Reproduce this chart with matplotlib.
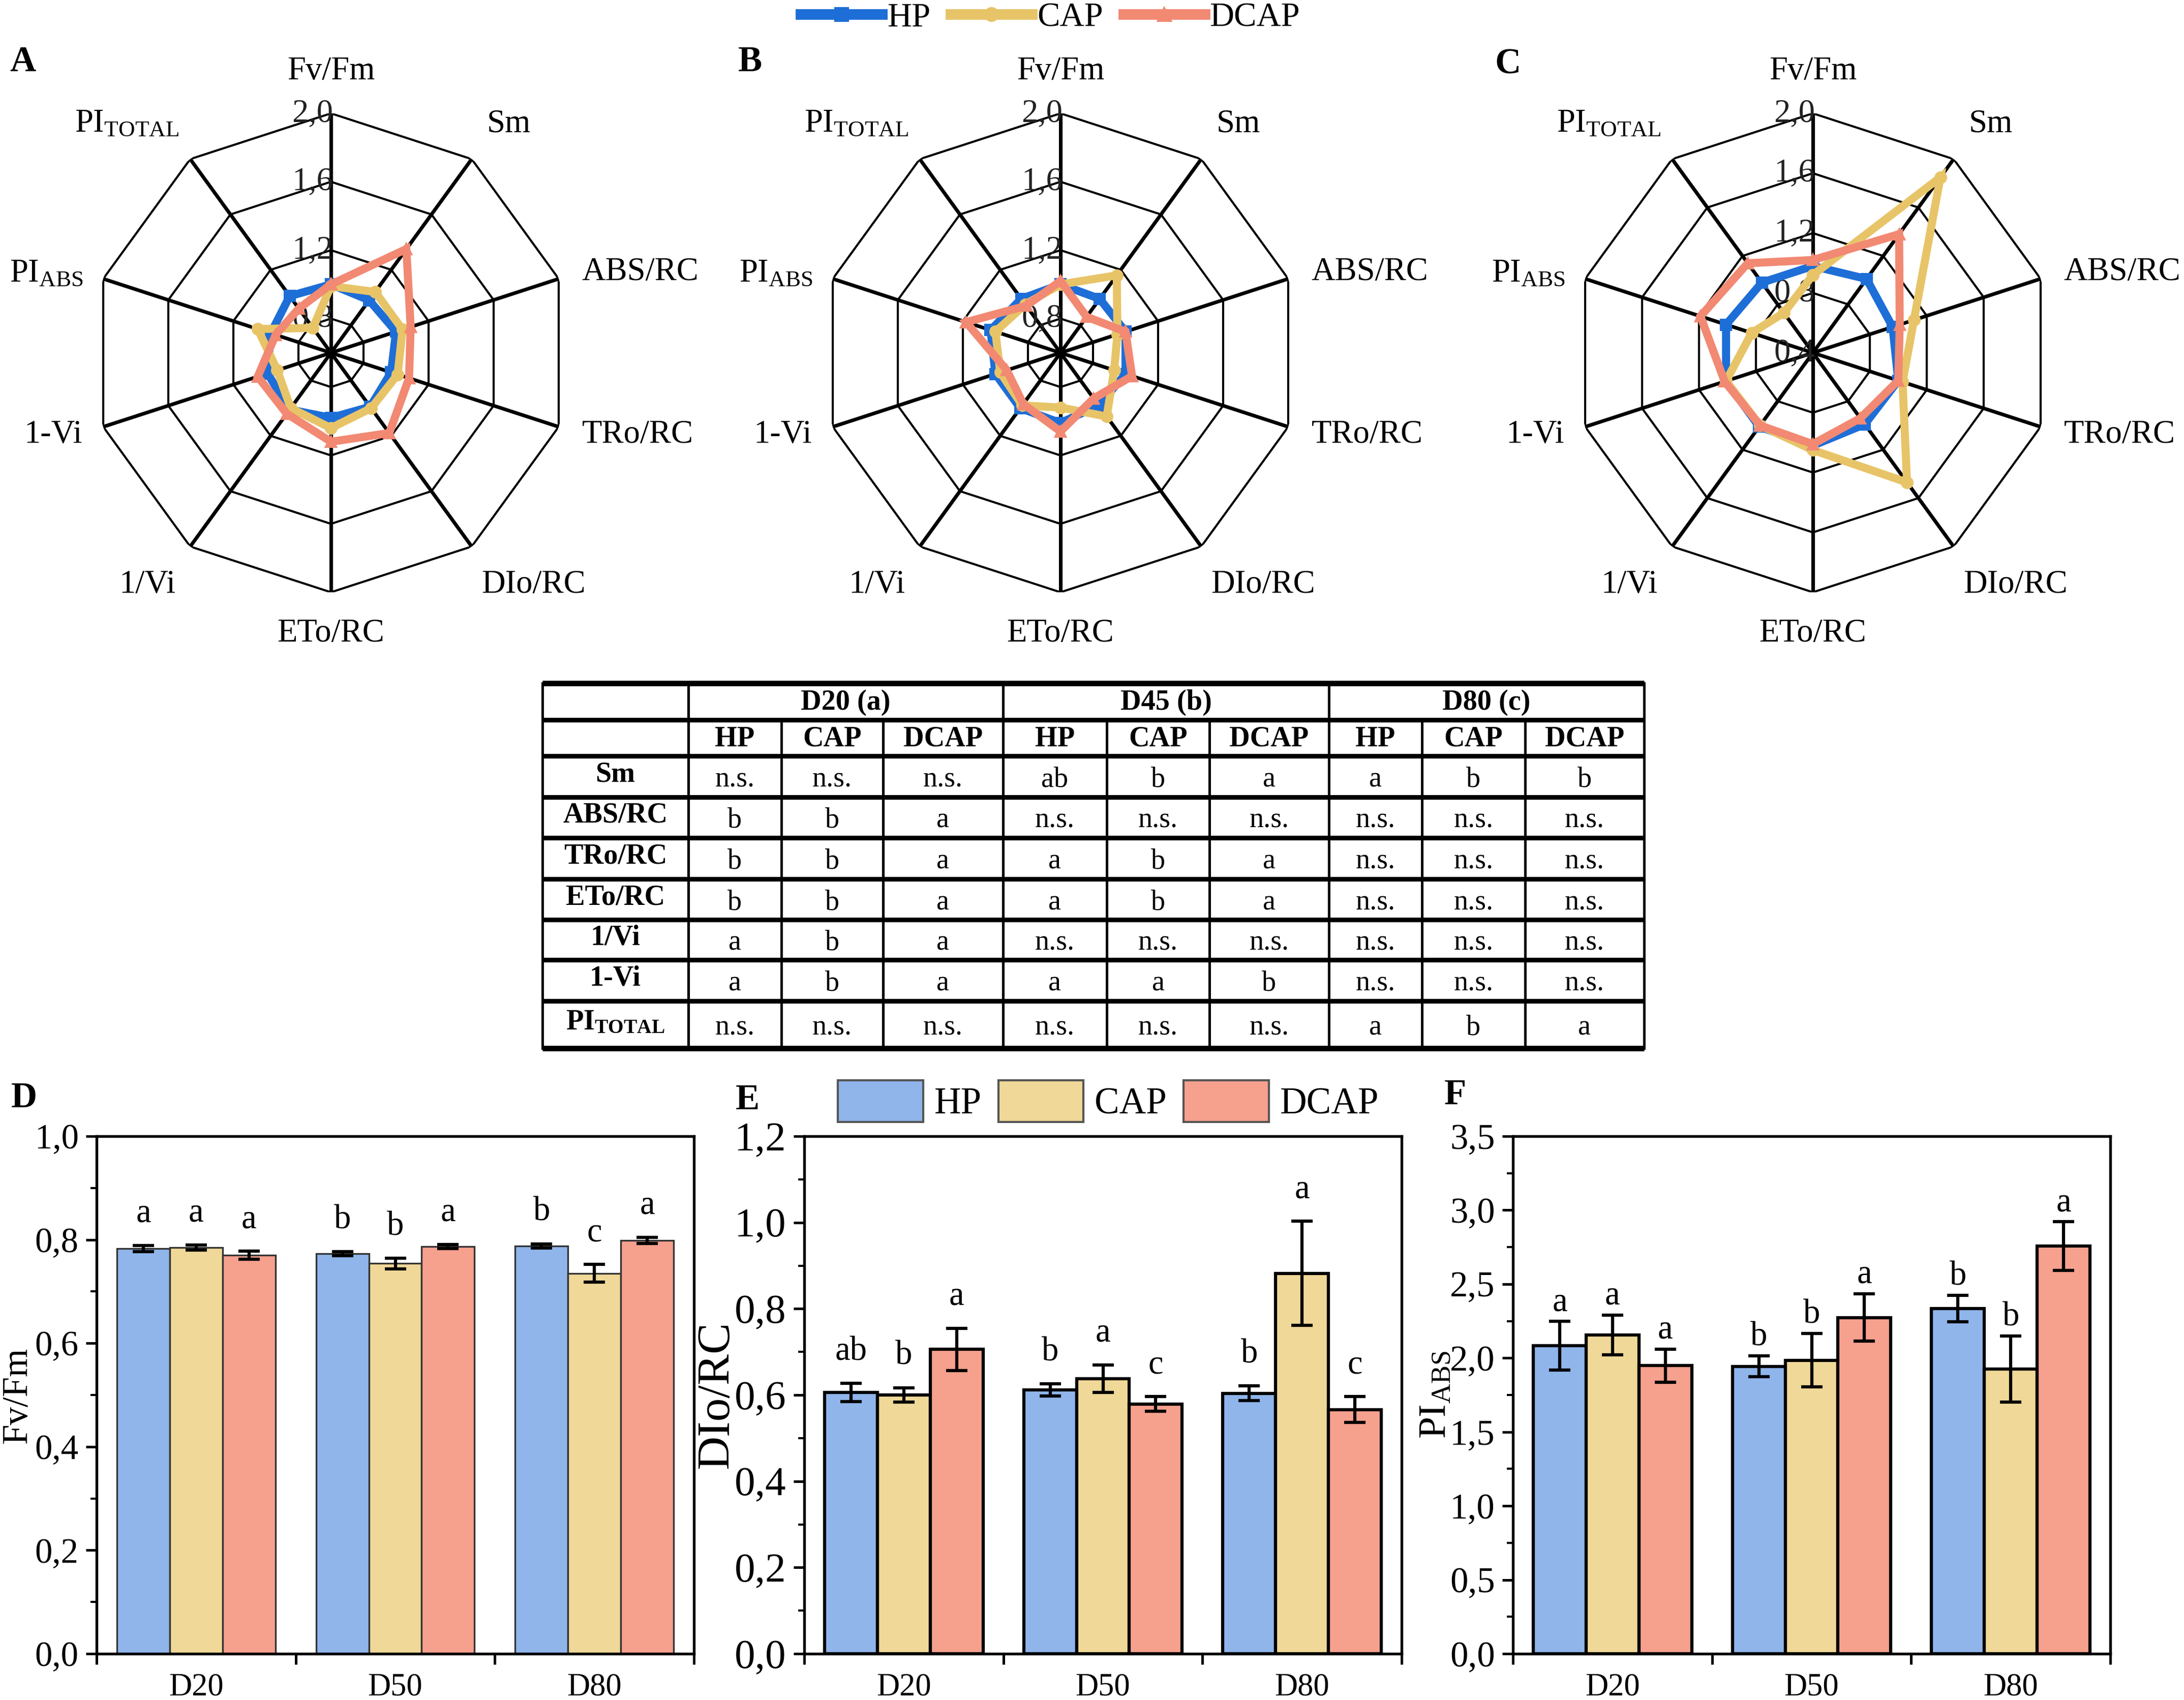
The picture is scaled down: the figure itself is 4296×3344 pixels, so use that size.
import numpy as np
import matplotlib
matplotlib.use('Agg')
import matplotlib.pyplot as plt
from matplotlib.lines import Line2D
from matplotlib.patches import Patch
from matplotlib.ticker import MultipleLocator, FuncFormatter

plt.rcParams['font.family'] = ['Liberation Serif', 'DejaVu Serif']
plt.rcParams['mathtext.fontset'] = 'custom'
plt.rcParams['mathtext.rm'] = 'Liberation Serif'
plt.rcParams['mathtext.it'] = 'Liberation Serif:italic'
plt.rcParams['mathtext.bf'] = 'Liberation Serif:bold'

# ---------------- data ----------------
treatments = ['HP', 'CAP', 'DCAP']
radar_params = ['Fv/Fm', 'Sm', 'ABS/RC', 'TRo/RC', 'DIo/RC', 'ETo/RC', '1/Vi', '1-Vi',
                r'PI$_{\mathrm{ABS}}$', r'PI$_{\mathrm{TOTAL}}$']

radarA_HP = [1.00, 0.98, 1.00, 0.97, 0.99, 0.98, 1.01, 0.99, 0.97, 1.01]
radarA_CAP = [0.99, 1.04, 1.04, 1.01, 1.00, 1.04, 1.00, 0.93, 1.05, 0.78]
radarA_DCAP = [1.00, 1.35, 1.09, 1.08, 1.18, 1.12, 1.04, 1.05, 0.94, 0.92]

radarB_HP = [1.00, 0.99, 1.00, 1.00, 0.98, 1.01, 1.00, 1.00, 1.03, 0.99]
radarB_CAP = [1.00, 1.16, 0.95, 0.93, 1.06, 0.92, 0.98, 0.97, 1.00, 0.95]
radarB_DCAP = [1.02, 0.86, 1.00, 1.04, 0.93, 1.06, 0.97, 0.93, 1.18, 0.94]

radarC_HP = [0.98, 1.01, 0.96, 1.00, 0.99, 1.02, 1.01, 1.01, 1.01, 0.98]
radarC_CAP = [0.92, 1.85, 1.11, 1.03, 1.47, 1.05, 1.00, 1.01, 0.83, 0.73]
radarC_DCAP = [1.02, 1.38, 1.01, 1.00, 0.94, 1.01, 1.00, 1.02, 1.19, 1.14]

radarA_ticks = [0.8, 1.2, 1.6, 2.0]
radarC_ticks = [0.4, 0.8, 1.2, 1.6, 2.0]

days = ['D20', 'D50', 'D80']

fvfm_HP = [0.783, 0.773, 0.788]
fvfm_CAP = [0.785, 0.754, 0.735]
fvfm_DCAP = [0.770, 0.787, 0.799]
fvfm_HP_err = [0.006, 0.004, 0.004]
fvfm_CAP_err = [0.005, 0.010, 0.017]
fvfm_DCAP_err = [0.008, 0.004, 0.006]
fvfm_HP_let = ['a', 'b', 'b']
fvfm_CAP_let = ['a', 'b', 'c']
fvfm_DCAP_let = ['a', 'a', 'a']

dio_HP = [0.606, 0.612, 0.604]
dio_CAP = [0.600, 0.638, 0.882]
dio_DCAP = [0.706, 0.579, 0.566]
dio_HP_err = [0.021, 0.014, 0.017]
dio_CAP_err = [0.017, 0.032, 0.121]
dio_DCAP_err = [0.049, 0.017, 0.030]
dio_HP_let = ['ab', 'b', 'b']
dio_CAP_let = ['b', 'a', 'a']
dio_DCAP_let = ['a', 'c', 'c']

pi_HP = [2.083, 1.944, 2.334]
pi_CAP = [2.157, 1.985, 1.925]
pi_DCAP = [1.949, 2.274, 2.757]
pi_HP_err = [0.164, 0.071, 0.090]
pi_CAP_err = [0.134, 0.180, 0.224]
pi_DCAP_err = [0.112, 0.161, 0.164]
pi_HP_let = ['a', 'b', 'b']
pi_CAP_let = ['a', 'b', 'b']
pi_DCAP_let = ['a', 'a', 'a']

table_groups = ['D20 (a)', 'D45 (b)', 'D80 (c)']
table_rows = ['Sm', 'ABS/RC', 'TRo/RC', 'ETo/RC', '1/Vi', '1-Vi', r'PI$_{\mathbf{TOTAL}}$']
table_cells = [
    ['n.s.', 'n.s.', 'n.s.', 'ab', 'b', 'a', 'a', 'b', 'b'],
    ['b', 'b', 'a', 'n.s.', 'n.s.', 'n.s.', 'n.s.', 'n.s.', 'n.s.'],
    ['b', 'b', 'a', 'a', 'b', 'a', 'n.s.', 'n.s.', 'n.s.'],
    ['b', 'b', 'a', 'a', 'b', 'a', 'n.s.', 'n.s.', 'n.s.'],
    ['a', 'b', 'a', 'n.s.', 'n.s.', 'n.s.', 'n.s.', 'n.s.', 'n.s.'],
    ['a', 'b', 'a', 'a', 'a', 'b', 'n.s.', 'n.s.', 'n.s.'],
    ['n.s.', 'n.s.', 'n.s.', 'n.s.', 'n.s.', 'n.s.', 'a', 'b', 'a'],
]

# ---------------- style ----------------
line_colors = ['#1E6ED7', '#E8C468', '#F28973']
markers = ['s', 'o', '^']
bar_colors = ['#8FB5EB', '#F0D898', '#F6A08E']

W, H = 4296, 3344
DPI = 300
fig = plt.figure(figsize=(W / DPI, H / DPI), dpi=DPI)

# label positions around radar in axes fraction
lab_pos = [(0.5, 1.088), (0.871, 0.978), (1.146, 0.668), (1.141, 0.329), (0.923, 0.016),
           (0.5, -0.086), (0.117, 0.016), (-0.080, 0.329), (-0.094, 0.665), (0.074, 0.978)]


def radar(cx, cy, R, rmin, series, ticks):
    ax = fig.add_axes([(cx - R) / W, 1 - (cy + R) / H, 2 * R / W, 2 * R / H], projection='polar')
    ax.set_theta_zero_location('N')
    ax.set_theta_direction(-1)
    ax.set_ylim(rmin, 2.0)
    ax.grid(False)
    ax.set_xticks([])
    ax.set_yticks([])
    ax.spines['polar'].set_visible(False)
    ax.patch.set_alpha(0)
    n = len(radar_params)
    th = np.arange(n) * 2 * np.pi / n
    thc = np.r_[th, th[0]]
    for v in ticks:
        if v > rmin:
            ax.plot(thc, [v] * (n + 1), color='black', lw=1.0, zorder=1)
    for t in th:
        ax.plot([t, t], [rmin, 2.0], color='black', lw=1.7, zorder=1)
    for v in ticks:
        ax.annotate(f'{v:.1f}'.replace('.', ','), (0, v), xytext=(1, 0), textcoords='offset points',
                    ha='right', va='center', fontsize=15.5, zorder=2, color='#222222')
    for vals, c, m in zip(series, line_colors, markers):
        vv = np.r_[vals, vals[0]]
        ax.plot(thc, vv, color=c, lw=3.8, marker=m, markersize=5, zorder=3,
                solid_joinstyle='miter', clip_on=False)
    for lab, (px, py) in zip(radar_params, lab_pos):
        ax.text(px, py, lab, transform=ax.transAxes, ha='center', va='center', fontsize=15.5)
    return ax


R = 471
radar(651, 694, R, 0.6, [radarA_HP, radarA_CAP, radarA_DCAP], radarA_ticks)
radar(2086, 694, R, 0.6, [radarB_HP, radarB_CAP, radarB_DCAP], radarA_ticks)
radar(3566, 694, R, 0.4, [radarC_HP, radarC_CAP, radarC_DCAP], radarC_ticks)

# top legend
handles = [Line2D([], [], color=c, lw=5, marker=m, markersize=6) for c, m in zip(line_colors, markers)]
fig.legend(handles, treatments, loc='center', bbox_to_anchor=(2066 / W, 1 - 35 / H), ncol=3,
           frameon=False, fontsize=16, handlelength=2.4, handletextpad=0.15, columnspacing=0.6)

# panel letters
for t, (px, py) in zip('ABCDEF', [(19, 123), (1452, 123), (2940, 127), (22, 2160), (1447, 2165), (2841, 2155)]):
    fig.text(px / W, 1 - py / H, t, fontsize=17, fontweight='bold', ha='left', va='center')


def fmt(v, p):
    return f'{v:.1f}'.replace('.', ',')


def bars(left, vals, errs, lets, ylim, major, minor, ylabel, ylsize, yl_x, let_off, edge_lw, edge_c, yt_size):
    ax = fig.add_axes([left / W, 1 - 3253 / H, 1175 / W, (3253 - 2235) / H])
    x = np.arange(len(days))
    w = 0.265
    for k in range(3):
        xs = x + (k - 1) * w
        ax.bar(xs, vals[k], w, color=bar_colors[k], edgecolor=edge_c, lw=edge_lw, zorder=2)
        ax.errorbar(xs, vals[k], yerr=errs[k], fmt='none', ecolor='black', elinewidth=1.5,
                    capsize=5, capthick=1.5, zorder=3)
        for xi, vi, ei, li in zip(xs, vals[k], errs[k], lets[k]):
            ax.annotate(li, (xi, vi + ei), xytext=(0, let_off), textcoords='offset points',
                        ha='center', va='baseline', fontsize=16)
    ax.set_xlim(-0.5, 2.5)
    ax.set_xticks([-0.5, 0.5, 1.5, 2.5])
    ax.set_xticklabels([])
    ax.set_xticks(x, minor=True)
    ax.set_xticklabels(days, minor=True)
    ax.tick_params(axis='x', which='minor', length=0, labelsize=15, pad=9)
    ax.tick_params(axis='x', which='major', direction='out', length=5, width=1.2)
    ax.set_ylim(*ylim)
    ax.yaxis.set_major_locator(MultipleLocator(major))
    ax.yaxis.set_minor_locator(MultipleLocator(minor))
    ax.yaxis.set_major_formatter(FuncFormatter(fmt))
    ax.tick_params(axis='y', which='major', direction='out', length=5, width=1.2, labelsize=yt_size)
    ax.tick_params(axis='y', which='minor', direction='out', length=3, width=1.0)
    for s in ax.spines.values():
        s.set_linewidth(1.3)
    ax.set_ylabel(ylabel, fontsize=ylsize)
    ax.yaxis.set_label_coords(yl_x, 0.5)
    return ax


bars(190, [fvfm_HP, fvfm_CAP, fvfm_DCAP], [fvfm_HP_err, fvfm_CAP_err, fvfm_DCAP_err],
     [fvfm_HP_let, fvfm_CAP_let, fvfm_DCAP_let], (0, 1.0), 0.2, 0.1, 'Fv/Fm', 17, -0.105, 11, 0.8,
     '#333333', 16.5)
bars(1582, [dio_HP, dio_CAP, dio_DCAP], [dio_HP_err, dio_CAP_err, dio_DCAP_err],
     [dio_HP_let, dio_CAP_let, dio_DCAP_let], (0, 1.2), 0.2, 0.1, 'DIo/RC', 22, -0.111, 11, 1.5,
     'black', 19.5)
bars(2976, [pi_HP, pi_CAP, pi_DCAP], [pi_HP_err, pi_CAP_err, pi_DCAP_err],
     [pi_HP_let, pi_CAP_let, pi_DCAP_let], (0, 3.5), 0.5, 0.25, r'PI$_{\mathrm{ABS}}$', 18.5, -0.1, 5, 1.5,
     'black', 17)

# bar legend
bh = [Patch(facecolor=c, edgecolor='#555555', lw=1.0) for c in bar_colors]
fig.legend(bh, treatments, loc='center', bbox_to_anchor=(2180 / W, 1 - 2166 / H), ncol=3, frameon=False,
           fontsize=17.5, handlelength=2.3, handleheight=1.35, handletextpad=0.3, columnspacing=0.45)

# table
cols = [1067, 1354, 1537, 1737, 1973, 2177, 2379, 2614, 2797, 3000, 3234]
rows = [1344, 1416, 1487, 1568, 1648, 1729, 1809, 1888, 1969, 2062]
tax = fig.add_axes([cols[0] / W, 1 - rows[-1] / H, (cols[-1] - cols[0]) / W, (rows[-1] - rows[0]) / H])
tax.set_xlim(cols[0], cols[-1])
tax.set_ylim(rows[-1], rows[0])
tax.axis('off')
for i, yv in enumerate(rows):
    tax.plot([cols[0], cols[-1]], [yv, yv], color='black', lw=2.6 if i in (0, len(rows) - 1) else 2.2,
             clip_on=False, solid_capstyle='butt')
for j, xv in enumerate(cols):
    top = rows[0] if j in (0, 1, 4, 7, 10) else rows[1]
    tax.plot([xv, xv], [top, rows[-1]], color='black', lw=1.2, clip_on=False)
fs = 13.5
for g, name in enumerate(table_groups):
    xc = (cols[1 + 3 * g] + cols[4 + 3 * g]) / 2
    tax.text(xc, (rows[0] + rows[1]) / 2 + 2, name, ha='center', va='center', fontsize=fs, fontweight='bold')
    for k, tname in enumerate(treatments):
        c = 1 + 3 * g + k
        tax.text((cols[c] + cols[c + 1]) / 2, (rows[1] + rows[2]) / 2 + 2, tname, ha='center', va='center',
                 fontsize=fs, fontweight='bold')
for r, (rname, cells) in enumerate(zip(table_rows, table_cells)):
    yc = (rows[2 + r] + rows[3 + r]) / 2
    tax.text((cols[0] + cols[1]) / 2, yc - 4, rname, ha='center', va='center', fontsize=fs, fontweight='bold')
    for c, val in enumerate(cells):
        tax.text((cols[1 + c] + cols[2 + c]) / 2, yc + 6, val, ha='center', va='center', fontsize=fs)

fig.savefig('out.png', dpi=DPI)
